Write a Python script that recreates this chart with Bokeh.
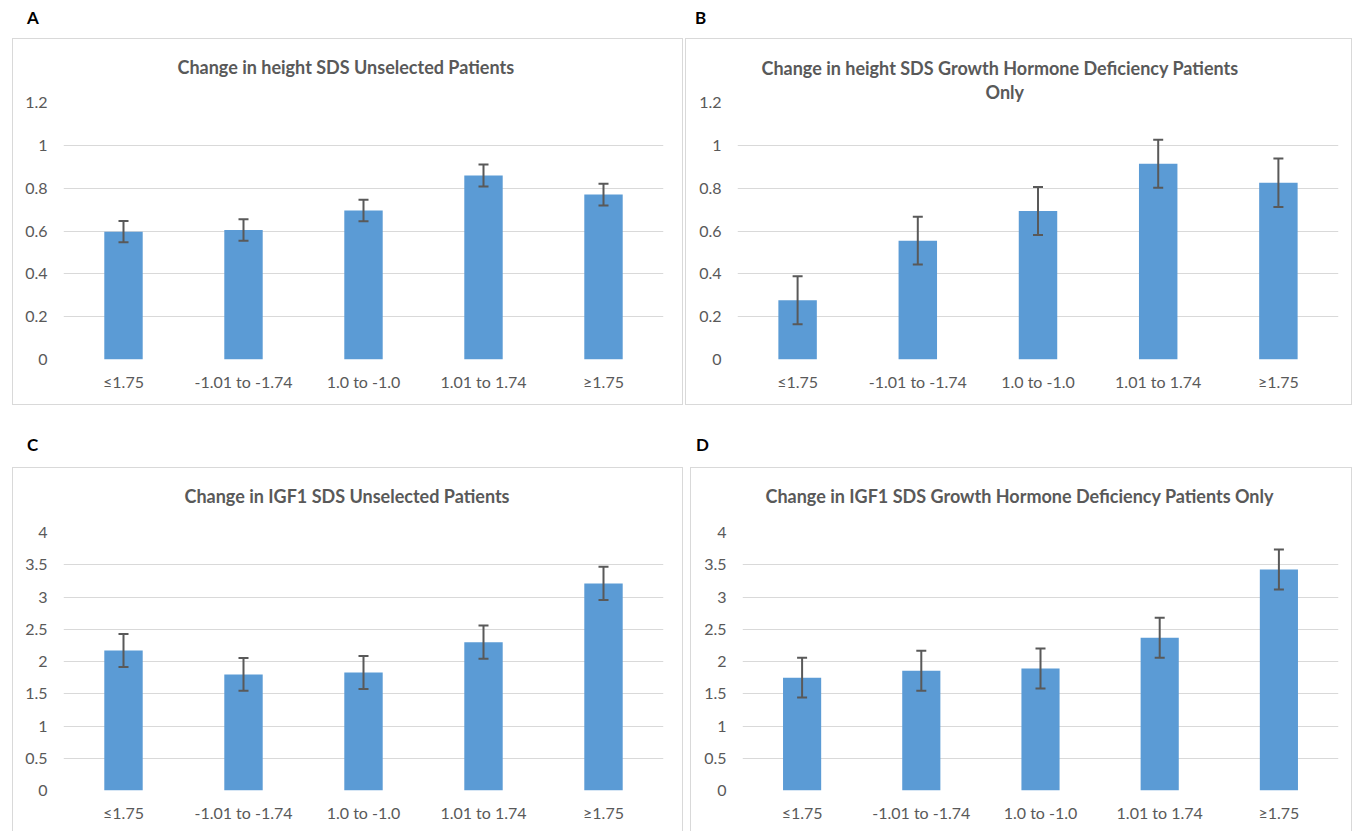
from bokeh.plotting import figure
from bokeh.models import (ColumnDataSource, Whisker, TeeHead, FactorRange, FixedTicker,
                          NumeralTickFormatter, Title, Div, Spacer)
from bokeh.layouts import column, row
from bokeh.embed import file_html
from bokeh.resources import INLINE

categories = ["≤1.75", "-1.01 to -1.74", "1.0 to -1.0", "1.01 to 1.74", "≥1.75"]

height_unselected = [0.597, 0.605, 0.696, 0.859, 0.770]
height_unselected_err = [0.050, 0.050, 0.050, 0.051, 0.051]

height_ghd = [0.277, 0.555, 0.693, 0.914, 0.825]
height_ghd_err = [0.112, 0.112, 0.112, 0.112, 0.113]

igf1_unselected = [2.17, 1.80, 1.83, 2.30, 3.21]
igf1_unselected_err = [0.256, 0.253, 0.256, 0.258, 0.258]

igf1_ghd = [1.75, 1.855, 1.89, 2.37, 3.425]
igf1_ghd_err = [0.31, 0.31, 0.31, 0.31, 0.31]

height_ticks = [0, 0.2, 0.4, 0.6, 0.8, 1, 1.2]
igf1_ticks = [0, 0.5, 1, 1.5, 2, 2.5, 3, 3.5, 4]

titles_a = ["Change in height SDS Unselected Patients"]
titles_b = ["Change in height SDS Growth Hormone Deficiency Patients", "Only"]
titles_c = ["Change in IGF1 SDS Unselected Patients"]
titles_d = ["Change in IGF1 SDS Growth Hormone Deficiency Patients Only"]

FONT = "Lato"
GREY = "#595959"
GRID = "#d9d9d9"
BAR = "#5b9bd5"
ERR = "#595959"


def panel(title_lines, title_offsets, gap, values, errors, ticks, ymax,
          width, height, borders, styles):
    left, right, top, bottom = borders
    p = figure(x_range=FactorRange(factors=categories), y_range=(0, ymax),
               width=width, height=height, output_backend="svg",
               toolbar_location=None, min_border_left=left, min_border_right=right,
               min_border_top=top, min_border_bottom=bottom,
               background_fill_color="white", border_fill_color="white",
               outline_line_color=None, styles=styles)
    if gap:
        p.add_layout(Title(text=" ", text_font_size="1px", standoff=gap), "above")
    for i, line in reversed(list(enumerate(title_lines))):
        t = Title(text=line, align="left", offset=title_offsets[i],
                  text_font=FONT, text_font_size="18px", text_font_style="bold",
                  text_color=GREY, standoff=0)
        p.add_layout(t, "above")
    src = ColumnDataSource(dict(cat=categories, val=values,
                                upper=[v + e for v, e in zip(values, errors)],
                                lower=[v - e for v, e in zip(values, errors)]))
    p.vbar(x="cat", top="val", width=0.32, source=src, fill_color=BAR, line_color=None)
    w = Whisker(source=src, base="cat", upper="upper", lower="lower",
                line_color=ERR, line_width=2, level="overlay",
                upper_head=TeeHead(size=10, line_color=ERR, line_width=2),
                lower_head=TeeHead(size=10, line_color=ERR, line_width=2))
    p.add_layout(w)

    p.yaxis.ticker = FixedTicker(ticks=ticks)
    p.yaxis.formatter = NumeralTickFormatter(format="0.[0]")
    for ax in (p.xaxis, p.yaxis):
        ax.axis_line_color = None
        ax.major_tick_line_color = None
        ax.minor_tick_line_color = None
        ax.major_tick_out = 0
        ax.major_tick_in = 0
        ax.minor_tick_out = 0
        ax.major_label_text_font = FONT
        ax.major_label_text_font_size = "16px"
        ax.major_label_text_color = GREY
    p.yaxis.major_label_standoff = 16
    p.xaxis.major_label_standoff = 12
    p.xgrid.grid_line_color = None
    p.ygrid.grid_line_color = GRID
    p.ygrid.grid_line_width = 1
    p.ygrid.ticker = FixedTicker(ticks=ticks)
    return p


box = {"border": "1px solid #d9d9d9"}
box_open = {"border": "1px solid #d9d9d9", "border-bottom": "none"}

pA = panel(titles_a, [114], 22, height_unselected, height_unselected_err, height_ticks, 1.2,
           671, 367, (50, 21, 63, 47), box)
pB = panel(titles_b, [24, 248], 0, height_ghd, height_ghd_err, height_ticks, 1.2,
           667, 367, (51, 15, 62, 41), box)
pC = panel(titles_c, [121], 23, igf1_unselected, igf1_unselected_err, igf1_ticks, 4,
           671, 364, (50, 21, 64, 42), box_open)
pD = panel(titles_d, [23], 23, igf1_ghd, igf1_ghd_err, igf1_ticks, 4,
           662, 364, (51, 15, 64, 41), box_open)


def letter(txt, w, h, pad_left, pad_top):
    html = (f'<div style="font-family:Lato;font-weight:bold;font-size:17px;color:black;'
            f'line-height:20px;margin:0;padding:{pad_top}px 0 0 {pad_left}px">{txt}</div>')
    return Div(text=html, width=w, height=h, margin=0)


dA = letter("A", 683, 38, 27, 8)
dB = letter("B", 667, 38, 12, 8)
dC = letter("C", 683, 62, 27, 30)
dD = letter("D", 667, 62, 13, 30)

layout = column(
    row(dA, dB, spacing=0),
    row(Spacer(width=12, height=367), pA, Spacer(width=2, height=367), pB, spacing=0),
    row(dC, dD, spacing=0),
    row(Spacer(width=12, height=364), pC, Spacer(width=7, height=364), pD, spacing=0),
    spacing=0)

open("out.html", "w").write(file_html(layout, INLINE))
